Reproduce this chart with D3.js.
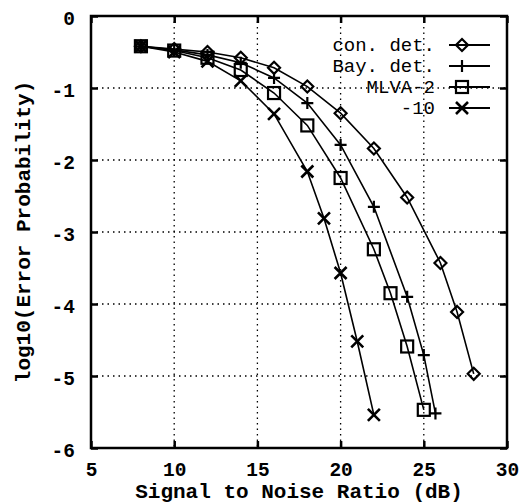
<!DOCTYPE html>
<html>
<head>
<meta charset="utf-8">
<script src="https://cdn.jsdelivr.net/npm/d3@7"></script>
<style>
  body { margin: 0; background: #fff; }
  svg { display: block; }
</style>
</head>
<body>
<div id="chart"></div>
<script>
// Data
const xTicks = [5, 10, 15, 20, 25, 30];
const yTicks = [0, -1, -2, -3, -4, -5, -6];

const seriesNames = ["con. det.", "Bay. det.", "MLVA-2", "-10"];
const seriesMarkers = ["diamond", "plus", "square", "cross"];

const snrCon = [8, 10, 12, 14, 16, 18, 20, 22, 24, 26, 27, 28];
const conDet = [-0.42, -0.46, -0.50, -0.58, -0.72, -0.98, -1.35, -1.84, -2.52, -3.43, -4.11, -4.97];

const snrBay = [8, 10, 12, 14, 16, 18, 20, 22, 24, 25, 25.7];
const bayDet = [-0.42, -0.47, -0.54, -0.65, -0.86, -1.21, -1.79, -2.65, -3.90, -4.71, -5.52];

const snrMlva2 = [8, 10, 12, 14, 16, 18, 20, 22, 23, 24, 25];
const mlva2 = [-0.42, -0.48, -0.58, -0.75, -1.07, -1.52, -2.25, -3.24, -3.85, -4.59, -5.47];

const snrMlva10 = [8, 10, 12, 14, 16, 18, 19, 20, 21, 22];
const mlva10 = [-0.42, -0.50, -0.63, -0.90, -1.36, -2.16, -2.81, -3.57, -4.52, -5.54];

const allX = [snrCon, snrBay, snrMlva2, snrMlva10];
const allY = [conDet, bayDet, mlva2, mlva10];

const width = 520;
const height = 504;
const font = "'Liberation Mono', 'DejaVu Sans Mono', monospace";

const svg = d3.select("#chart")
    .append("svg")
    .attr("width", width)
    .attr("height", height);

const x = d3.scaleLinear().domain([5, 30]).range([91, 507]);
const y = d3.scaleLinear().domain([-6, 0]).range([448, 16]);

// plain hyphen minus, like the original
const fmt = d => String(d);

// dotted grid
svg.append("g")
    .selectAll("line")
    .data(xTicks.slice(1, -1))
    .join("line")
    .attr("x1", d => x(d)).attr("x2", d => x(d))
    .attr("y1", y(0)).attr("y2", y(-6))
    .attr("stroke", "#000")
    .attr("stroke-width", 1.3)
    .attr("stroke-dasharray", "1.5,4");

svg.append("g")
    .selectAll("line")
    .data(yTicks.slice(1, -1))
    .join("line")
    .attr("x1", x(5)).attr("x2", x(30))
    .attr("y1", d => y(d)).attr("y2", d => y(d))
    .attr("stroke", "#000")
    .attr("stroke-width", 1.3)
    .attr("stroke-dasharray", "1.5,4");

// axes with inward ticks (mirrored on top/right)
const tickLen = 7;
const bottomAxis = svg.append("g")
    .attr("transform", `translate(0,${y(-6)})`)
    .call(d3.axisBottom(x).tickValues(xTicks).tickSize(-tickLen).tickPadding(14).tickFormat(fmt));
const topAxis = svg.append("g")
    .attr("transform", `translate(0,${y(0)})`)
    .call(d3.axisTop(x).tickValues(xTicks).tickSize(-tickLen).tickFormat(""));
const leftAxis = svg.append("g")
    .attr("transform", `translate(${x(5)},0)`)
    .call(d3.axisLeft(y).tickValues(yTicks).tickSize(-tickLen).tickPadding(16).tickFormat(fmt));
const rightAxis = svg.append("g")
    .attr("transform", `translate(${x(30)},0)`)
    .call(d3.axisRight(y).tickValues(yTicks).tickSize(-tickLen).tickFormat(""));

[bottomAxis, topAxis, leftAxis, rightAxis].forEach(a => {
    a.select(".domain").remove();
    a.selectAll(".tick line").attr("stroke", "#000").attr("stroke-width", 2.5);
    a.selectAll("text")
        .attr("fill", "#000")
        .style("font-family", font)
        .style("font-weight", "bold")
        .style("font-size", "19.5px");
});
leftAxis.selectAll("text").attr("dy", "0.42em");

// frame
svg.append("rect")
    .attr("x", x(5)).attr("y", y(0))
    .attr("width", x(30) - x(5))
    .attr("height", y(-6) - y(0))
    .attr("fill", "none")
    .attr("stroke", "#000")
    .attr("stroke-width", 2.5);

// markers
function drawMarker(g, type, cx, cy) {
    const s = 6;
    if (type === "diamond") {
        g.append("path")
            .attr("d", `M${cx},${cy - s}L${cx + s},${cy}L${cx},${cy + s}L${cx - s},${cy}Z`)
            .attr("fill", "none").attr("stroke", "#000").attr("stroke-width", 2.2);
    } else if (type === "plus") {
        g.append("path")
            .attr("d", `M${cx - s},${cy}H${cx + s}M${cx},${cy - s}V${cy + s}`)
            .attr("stroke", "#000").attr("stroke-width", 2.2);
    } else if (type === "square") {
        g.append("rect")
            .attr("x", cx - s).attr("y", cy - s)
            .attr("width", 2 * s).attr("height", 2 * s)
            .attr("fill", "none").attr("stroke", "#000").attr("stroke-width", 2.2);
    } else {
        g.append("path")
            .attr("d", `M${cx - s},${cy - s}L${cx + s},${cy + s}M${cx - s},${cy + s}L${cx + s},${cy - s}`)
            .attr("stroke", "#000").attr("stroke-width", 2.6);
    }
}

const line = d3.line().x(d => x(d[0])).y(d => y(d[1]));

seriesNames.forEach((name, i) => {
    const pts = allX[i].map((v, j) => [v, allY[i][j]]);
    const g = svg.append("g");
    g.append("path")
        .datum(pts)
        .attr("d", line)
        .attr("fill", "none")
        .attr("stroke", "#000")
        .attr("stroke-width", 1.6);
    pts.forEach(p => drawMarker(g, seriesMarkers[i], x(p[0]), y(p[1])));
});

// legend
const legendY = [45, 66, 87, 108];
seriesNames.forEach((name, i) => {
    const g = svg.append("g");
    g.append("text")
        .attr("x", 435)
        .attr("y", legendY[i] + 6)
        .attr("text-anchor", "end")
        .style("font-family", font)
        .style("font-size", "19px")
        .text(name);
    g.append("line")
        .attr("x1", 449).attr("x2", 490)
        .attr("y1", legendY[i]).attr("y2", legendY[i])
        .attr("stroke", "#000").attr("stroke-width", 2);
    drawMarker(g, seriesMarkers[i], 462, legendY[i]);
});

// axis labels
svg.append("text")
    .attr("x", (x(5) + x(30)) / 2)
    .attr("y", 498)
    .attr("text-anchor", "middle")
    .style("font-family", font)
    .style("font-weight", "bold")
    .style("font-size", "21px")
    .text("Signal to Noise Ratio (dB)");

svg.append("text")
    .attr("transform", `translate(30,${(y(0) + y(-6)) / 2}) rotate(-90)`)
    .attr("text-anchor", "middle")
    .style("font-family", font)
    .style("font-weight", "bold")
    .style("font-size", "21px")
    .text("log10(Error Probability)");
</script>
</body>
</html>
